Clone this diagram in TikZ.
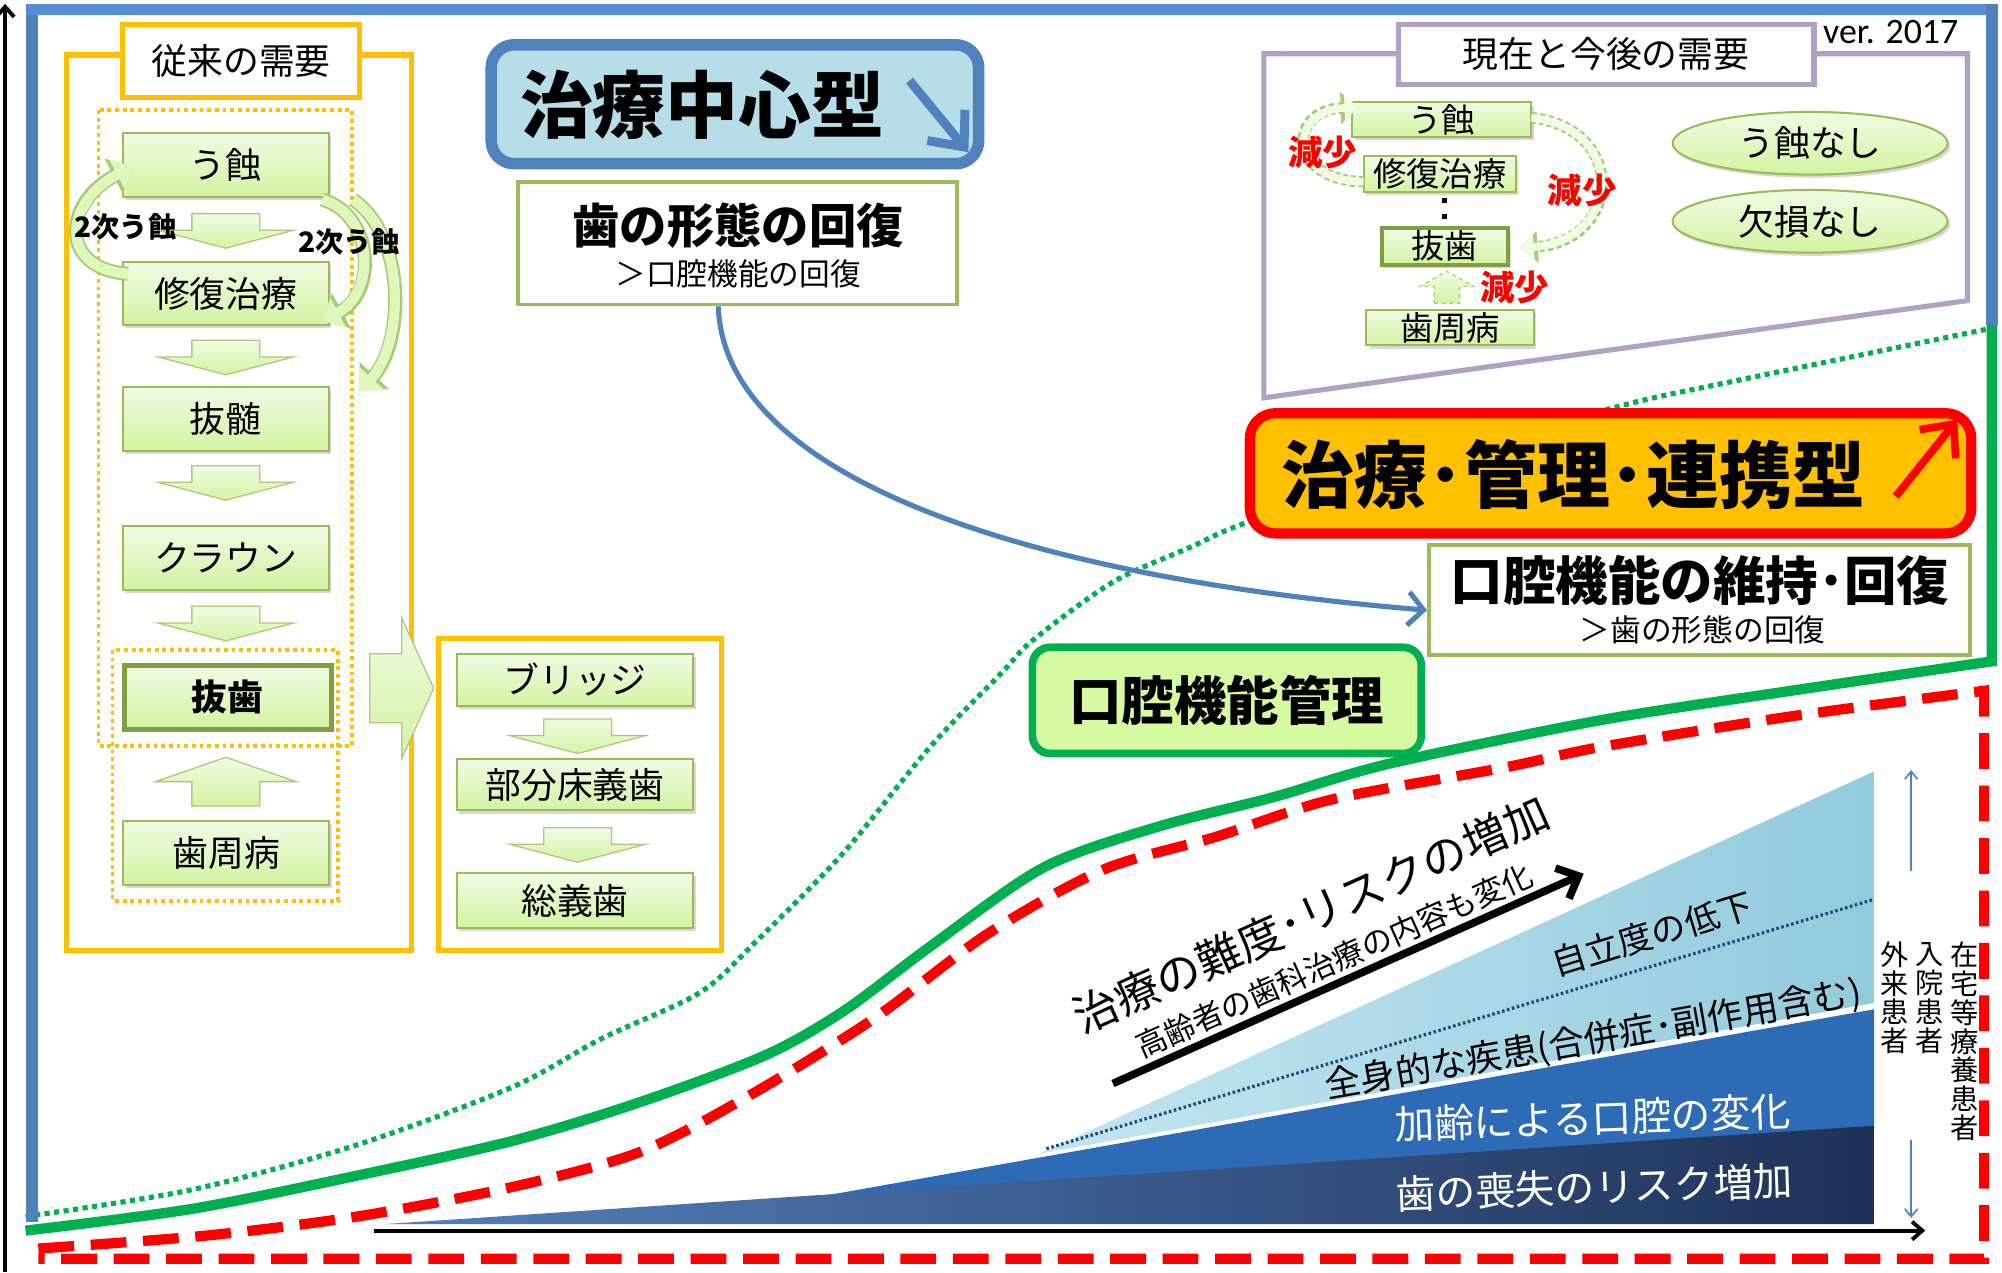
\documentclass[tikz,border=0pt]{standalone}
\usepackage{fontspec}
\setmainfont{Noto Sans CJK JP}
\newfontfamily\verfont{Carlito}
\usetikzlibrary{arrows.meta,shapes.geometric,shadows}
\definecolor{frameblue}{RGB}{79,129,189}
\definecolor{topblue}{RGB}{85,142,213}
\definecolor{orangeY}{RGB}{255,192,0}
\definecolor{olive}{RGB}{155,187,89}
\definecolor{darkolive}{RGB}{125,160,65}
\definecolor{lgtop}{RGB}{240,252,228}
\definecolor{lgbot}{RGB}{212,243,162}
\definecolor{arrborder}{RGB}{165,205,115}
\definecolor{ggreen}{RGB}{0,176,80}
\definecolor{purp}{RGB}{178,161,199}
\definecolor{lightblue}{RGB}{183,222,232}
\definecolor{mgmtfill}{RGB}{214,250,160}
\definecolor{skyband}{RGB}{146,203,221}
\definecolor{skylight}{RGB}{196,230,241}
\definecolor{midblue}{RGB}{46,107,183}
\definecolor{navy}{RGB}{30,50,88}
\definecolor{lowblue}{RGB}{84,128,188}
\definecolor{dotblue}{RGB}{31,73,125}
\definecolor{redline}{RGB}{255,0,0}
\tikzset{
  fs/.style={font=\fontsize{#1}{#1}\selectfont},
  bfs/.style={font=\fontsize{#1}{#1}\selectfont\bfseries},
  vfs/.style={font=\fontsize{22}{22.6}\selectfont, align=center, inner sep=0pt},
  shad/.style={drop shadow={opacity=0.3,shadow xshift=2pt,shadow yshift=-2.5pt}},
  gbox/.style={draw=olive, line width=1.6pt, top color=lgtop, bottom color=lgbot, inner sep=0pt, shad},
  barrow/.style={draw=olive!80, line width=1pt, top color=lgtop, bottom color=lgbot},
  oframe/.style={draw=orangeY, line width=4pt},
  dotframe/.style={draw=orangeY, line width=3pt, dash pattern=on 3pt off 3pt},
  wbox/.style={draw=olive, line width=3pt, fill=white, inner sep=0pt},
  arrout/.style={line width=11pt, draw=arrborder, -{Triangle[length=17pt,width=30pt]}},
  arrin/.style={line width=8pt, draw=lgtop!40!lgbot, -{Triangle[length=14pt,width=25pt]}},
  arrdout/.style={line width=9pt, draw=arrborder, dash pattern=on 4pt off 2.5pt, -{Triangle[length=14pt,width=24pt]}},
  arrdin/.style={line width=6pt, draw=lgtop, -{Triangle[length=11pt,width=19pt]}},
  barb/.style={-{Straight Barb[length=#1pt,width=#1pt]}},
}
\newcommand{\dnarr}[2]{\path[barrow] ({#1-26.5},#2) -- ({#1+26.5},#2) -- ({#1+26.5},{#2+13}) -- ({#1+53},{#2+13}) -- (#1,{#2+27}) -- ({#1-53},{#2+13}) -- ({#1-26.5},{#2+13}) -- cycle;}
\newcommand{\uparr}[2]{\path[barrow] ({#1-26.5},{#2+38}) -- ({#1+26.5},{#2+38}) -- ({#1+26.5},{#2+19}) -- ({#1+55},{#2+19}) -- (#1,#2) -- ({#1-55},{#2+19}) -- ({#1-26.5},{#2+19}) -- cycle;}
\begin{document}
\begin{tikzpicture}[x=1pt,y=-1pt]
\useasboundingbox (0,0) rectangle (1565,994.4);
\fill[white] (0,0) rectangle (1565,994.4);

% ---- bottom wedges
\path[fill=midblue] (643,935) -- (1465,789) -- (1465,882) -- cycle;
\shade[left color=lowblue, right color=navy] (299,957) -- (643,934) -- (1465,880) -- (1465,957) -- cycle;
\shade[left color=skylight, right color=skyband] (812,902) -- (1465,603) -- (1465,784) -- cycle;
\draw[dotblue, line width=2.5pt, dash pattern=on 2pt off 2pt] (818,898) -- (1465,703);

% ---- axes
\coordinate (ya0) at (4,994); \coordinate (ya1) at (4,3);
\coordinate (xa0) at (292,962); \coordinate (xa1) at (1505,962);
\draw[line width=3pt, -{Straight Barb[length=8pt,width=14pt]}] (ya0) -- (ya1);
\draw[line width=3pt, -{Straight Barb[length=8pt,width=14pt]}] (xa0) -- (xa1);

% ---- curves
\draw[ggreen, line width=4pt, dash pattern=on 4pt off 3.5pt] plot[smooth] coordinates {(20,951) (150,930) (279,895) (400,850) (470,812) (547,776) (592,735) (659,667) (727,584) (782,527) (808,500) (870,455) (930,428) (973,409) (1100,365) (1264,318) (1360,297) (1555,257)};
\draw[redline, line width=8pt, dash pattern=on 28pt off 13pt] plot[smooth] coordinates {(30,976) (160,966) (279,951) (400,928) (499,901) (583,858) (682,797) (772,730) (862,680) (951,654) (1041,625) (1176,600) (1251,584) (1400,560) (1551,540)} -- (1551,984) -- (30,984);
\draw[ggreen, line width=8pt] plot[smooth] coordinates {(20,962) (150,945) (279,919) (400,892) (499,862) (598,825) (660,790) (727,740) (816,678) (906,646) (996,623) (1086,597) (1251,563) (1400,540) (1557,517)} -- (1557,252);

% ---- outer blue frame
\draw[frameblue, line width=9pt] (25,955) -- (25,7.5);
\draw[topblue, line width=9pt] (20.5,7.5) -- (1561.5,7.5);
\draw[frameblue, line width=9pt] (1557,3) -- (1557,254);

% ---- left block: traditional demand
\draw[oframe] (52,43) rectangle (322,743);
\node[draw=orangeY, line width=4pt, fill=white, minimum width=185pt, minimum height=57pt, inner sep=0pt, fs=28] (t1) at (188.5,47.5) {従来の需要};
\draw[dotframe] (77,86) rectangle (275,583);
\draw[dotframe] (88,508) rectangle (264,704);

\node[gbox, minimum width=161pt, minimum height=50pt, fs=28] (u1) at (176.5,129) {う蝕};
\node[gbox, minimum width=161pt, minimum height=49pt, fs=28] (u2) at (176.5,229.5) {修復治療};
\node[gbox, minimum width=161pt, minimum height=50pt, fs=28] (u3) at (176.5,327.5) {抜髄};
\node[gbox, minimum width=161pt, minimum height=50pt, fs=28] (u4) at (176.5,436) {クラウン};
\node[gbox, draw=darkolive, line width=4pt, minimum width=162pt, minimum height=50pt, bfs=28] (u5) at (178,545) {抜歯};
\node[gbox, minimum width=161pt, minimum height=50pt, fs=28] (u6) at (177,666.5) {歯周病};
\dnarr{176.5}{167}
\dnarr{176.5}{266}
\dnarr{176.5}{364}
\dnarr{176.5}{474}
\uparr{176.5}{592}

\draw[arrout] (100,214) .. controls (45,210) and (50,158) .. (104,130);
\draw[arrin] (100,214) .. controls (45,210) and (50,158) .. (104,130);
\draw[arrout] (252,156) .. controls (292,168) and (295,228) .. (252,251);
\draw[arrin] (252,156) .. controls (292,168) and (295,228) .. (252,251);
\draw[arrout] (276,156) .. controls (318,185) and (316,268) .. (281,306);
\draw[arrin] (276,156) .. controls (318,185) and (316,268) .. (281,306);
\node[bfs=22] (l2a) at (98,177) {2次う蝕};
\node[bfs=22] (l2b) at (273,189) {2次う蝕};

% big right arrow
\path[barrow] (289,511) -- (314,511) -- (314,483) -- (339,538) -- (314,593) -- (314,565) -- (289,565) -- cycle;

% ---- prosthesis column
\draw[oframe] (343,499) rectangle (564,743);
\node[gbox, minimum width=185pt, minimum height=41pt, fs=28] (p1) at (449.5,531.5) {ブリッジ};
\node[gbox, minimum width=185pt, minimum height=40pt, fs=28] (p2) at (449.5,613.5) {部分床義歯};
\node[gbox, minimum width=185pt, minimum height=43pt, fs=28] (p3) at (449.5,704) {総義歯};
\dnarr{451.5}{562}
\dnarr{451.5}{647}

% ---- treatment-centred
\node[draw=frameblue, line width=9pt, fill=lightblue, rounded corners=18pt, minimum width=381pt, minimum height=93pt, shad] (tc) at (574.5,81.5) {};
\node[bfs=57] (tct) at (549,82) {治療中心型};
\coordinate (tca0) at (711,63); \coordinate (tca1) at (757,119);
\draw[frameblue, line width=7pt, -{Straight Barb[length=22pt,width=38pt]}] (tca0) -- (tca1);

\node[wbox, minimum width=343pt, minimum height=96pt] (ka) at (576.5,190) {};
\node[bfs=37] (ka1) at (577,176) {歯の形態の回復};
\node[fs=24] (ka2) at (577,214) {＞口腔機能の回復};

% ---- present and future demand
\draw[purp, line width=4pt] (988,42) -- (1538,42) -- (1538,235) -- (988,311) -- cycle;
\node[draw=purp, line width=4pt, fill=white, minimum width=325pt, minimum height=47pt, inner sep=0pt, fs=28] (t2) at (1255.5,42.5) {現在と今後の需要};
\node[font=\verfont\fontsize{28}{28}\selectfont, inner sep=0pt] (ver) at (1478,25) {ver. 2017};

\node[gbox, minimum width=140pt, minimum height=27pt, fs=26] (s1) at (1127,93.5) {う蝕};
\node[gbox, minimum width=119pt, minimum height=28pt, fs=26] (s2) at (1125.5,136) {修復治療};
\node[gbox, draw=darkolive, line width=3pt, minimum width=99pt, minimum height=29pt, fs=26] (s3) at (1129.5,192.5) {抜歯};
\node[gbox, minimum width=131pt, minimum height=28pt, fs=26] (s4) at (1133.5,256) {歯周病};
\fill (1127,155) rectangle (1131,159);
\fill (1127,167) rectangle (1131,171);
\path[barrow, dashed] (1121,237) -- (1141,237) -- (1141,224) -- (1152,224) -- (1131,212) -- (1110,224) -- (1121,224) -- cycle;
\draw[arrdout] (1066,142) .. controls (1008,142) and (1005,86) .. (1062,84);
\draw[arrdin] (1066,142) .. controls (1008,142) and (1005,86) .. (1062,84);
\draw[arrdout] (1197,92) .. controls (1272,100) and (1268,188) .. (1188,194);
\draw[arrdin] (1197,92) .. controls (1272,100) and (1268,188) .. (1188,194);
\node[bfs=27, text=redline] (r1) at (1034,119) {減少};
\node[bfs=27, text=redline] (r2) at (1237,149) {減少};
\node[bfs=27, text=redline] (r3) at (1184,225) {減少};

\node[ellipse, gbox, minimum width=215pt, minimum height=49pt, fs=28] (e1) at (1415,112) {う蝕なし};
\node[ellipse, gbox, minimum width=215pt, minimum height=49pt, fs=28] (e2) at (1415,173) {欠損なし};

% ---- treatment / management / cooperation
\node[draw=redline, line width=8pt, fill=orangeY, rounded corners=20pt, minimum width=564pt, minimum height=94pt, shad] (tm) at (1259,370) {};
\node[bfs=57] (tmt) at (1230,371) {治療･管理･連携型};
\coordinate (tma0) at (1482,388); \coordinate (tma1) at (1530,328);
\draw[redline, line width=6pt, -{Straight Barb[length=20pt,width=36pt]}] (tma0) -- (tma1);

\node[wbox, minimum width=423pt, minimum height=86pt] (kb) at (1328.5,469) {};
\node[bfs=41] (kb1) at (1329,454) {口腔機能の維持･回復};
\node[fs=24] (kb2) at (1331,492) {＞歯の形態の回復};

\node[draw=ggreen, line width=6pt, fill=mgmtfill, rounded corners=14pt, minimum width=304pt, minimum height=83pt, bfs=41] (km) at (959,547.5) {口腔機能管理};

\draw[frameblue, line width=4pt, -{Straight Barb[length=12pt,width=26pt]}] ([xshift=-15pt]ka.south) .. controls (566,370) and (790,450) .. ([yshift=-8pt]kb.west);

% ---- bottom texts
\node[fs=35, rotate=24] (d1) at (1025,715) {治療の難度･リスクの増加};
\node[fs=24, rotate=24] (d2) at (1043,751) {高齢者の歯科治療の内容も変化};
\coordinate (da0) at (870,847); \coordinate (da1) at (1238,683);
\draw[line width=6pt, -{Straight Barb[length=14pt,width=26pt]}] (da0) -- (da1);
\node[fs=27, rotate=17] (d3) at (1291.5,730) {自立度の低下};
\node[fs=28, rotate=10] (d4) at (1245.5,813) {全身的な疾患(合併症･副作用含む)};
\node[fs=31, rotate=2, text=white] (d5) at (1245,874) {加齢による口腔の変化};
\node[fs=31, rotate=2, text=white] (d6) at (1246.5,928) {歯の喪失のリスク増加};

\node[vfs] (v1) at (1481,780) {外\\来\\患\\者};
\node[vfs] (v2) at (1508,780) {入\\院\\患\\者};
\node[vfs] (v3) at (1536,814) {在\\宅\\等\\療\\養\\患\\者};
\coordinate (ba0) at (1494,681); \coordinate (ba1) at (1494,602);
\coordinate (bb0) at (1494,891); \coordinate (bb1) at (1494,952);
\draw[frameblue, line width=1.3pt, -{Straight Barb[length=6pt,width=10pt]}] (ba0) -- (ba1);
\draw[frameblue, line width=1.3pt, -{Straight Barb[length=6pt,width=10pt]}] (bb0) -- (bb1);
\end{tikzpicture}
\end{document}
